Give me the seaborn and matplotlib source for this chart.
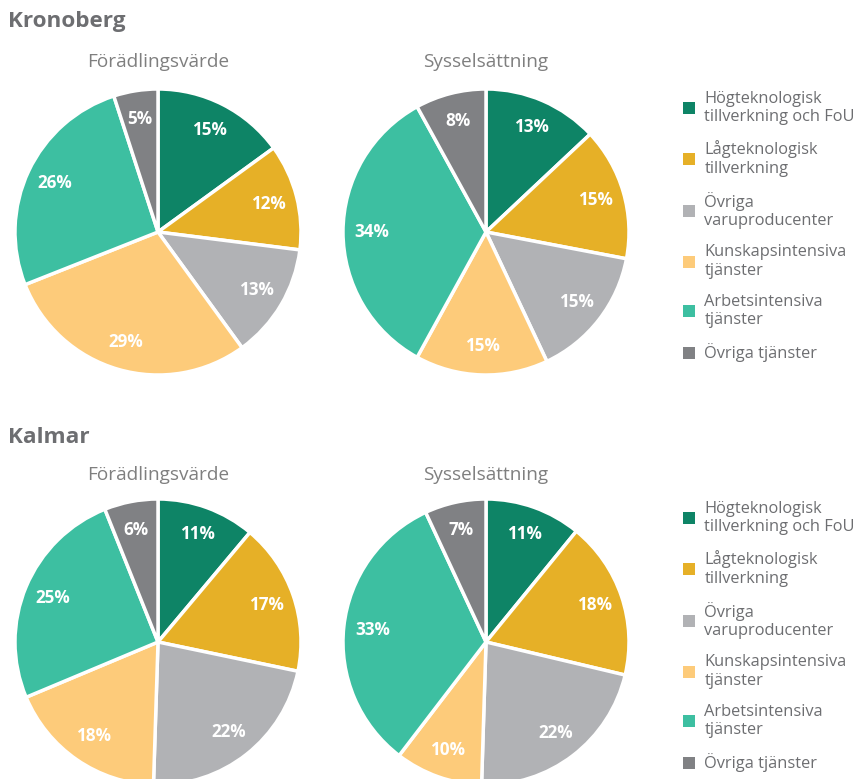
import matplotlib
matplotlib.use("Agg")
import matplotlib.pyplot as plt
from matplotlib.patches import Patch
import seaborn as sns
import pandas as pd

kategorier = ["Högteknologisk\ntillverkning och FoU",
              "Lågteknologisk\ntillverkning",
              "Övriga\nvaruproducenter",
              "Kunskapsintensiva\ntjänster",
              "Arbetsintensiva\ntjänster",
              "Övriga tjänster"]
farger = ["#0e8466", "#e6b027", "#b1b2b5", "#fdcb7a", "#3dbfa1", "#808184"]

kronoberg_fv = [15, 12, 13, 29, 26, 5]
kronoberg_sys = [13, 15, 15, 15, 34, 8]
kalmar_fv = [11, 17, 22, 18, 25, 6]
kalmar_sys = [11, 18, 22, 10, 33, 7]

lan = ["Kronoberg", "Kalmar"]
matt = ["Förädlingsvärde", "Sysselsättning"]

df = pd.DataFrame({
    ("Kronoberg", "Förädlingsvärde"): kronoberg_fv,
    ("Kronoberg", "Sysselsättning"): kronoberg_sys,
    ("Kalmar", "Förädlingsvärde"): kalmar_fv,
    ("Kalmar", "Sysselsättning"): kalmar_sys,
}, index=kategorier)

sns.set_theme(style="white")
plt.rcParams["font.family"] = ["Open Sans", "DejaVu Sans"]
palett = sns.color_palette(farger)

W, H = 854, 779
fig = plt.figure(figsize=(W / 100, H / 100), dpi=100)

textfarg = "#6d6e71"
radie = 143
rad_y = [232, 642]      # pie centres per row (px)
kol_x = [158, 486]      # pie centres per column (px)
titel_y = [22, 437]
under_y = [62, 475]
legend_y = [91, 501]

for i, l in enumerate(lan):
    fig.text(8 / W, 1 - titel_y[i] / H, l, fontsize=16.2, fontweight="bold",
             color=textfarg, va="center", ha="left")
    for j, m in enumerate(matt):
        cx, cy = kol_x[j], rad_y[i]
        ax = fig.add_axes([(cx - radie) / W, 1 - (cy + radie) / H,
                           2 * radie / W, 2 * radie / H])
        varden = df[(l, m)].tolist()
        wedges, _, autotexts = ax.pie(
            varden, colors=palett, startangle=90, counterclock=False,
            autopct="%.0f%%", pctdistance=0.8,
            wedgeprops={"edgecolor": "white", "linewidth": 2.5})
        for t, v in zip(autotexts, varden):
            t.set_text(f"{v}%")
            t.set_color("white")
            t.set_fontweight("bold")
            t.set_fontsize(12.3)
        ax.set_xlim(-1.0, 1.0)
        ax.set_ylim(-1.0, 1.0)
        ax.set_aspect("equal")
        ax.axis("off")
        fig.text(cx / W, 1 - under_y[i] / H, m, fontsize=13.7,
                 color="#7f7f7f", ha="center", va="center")

    handles = [Patch(facecolor=c, edgecolor="none") for c in palett]
    fig.legend(handles, kategorier, loc="upper left",
               bbox_to_anchor=(683 / W, 1 - legend_y[i] / H),
               frameon=False, fontsize=11.8, handlelength=0.75,
               handleheight=0.75, handletextpad=0.55, labelspacing=0.92,
               labelcolor=textfarg, borderaxespad=0, borderpad=0)

fig.savefig("out.png", dpi=100)
